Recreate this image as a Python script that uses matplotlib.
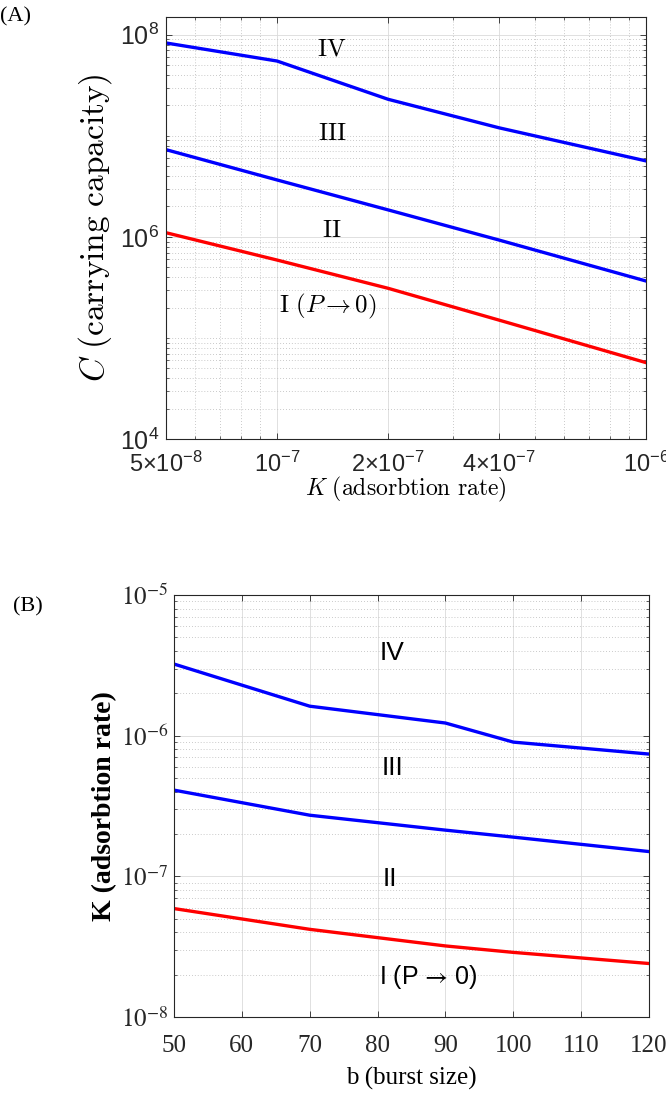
import matplotlib.pyplot as plt
import matplotlib.ticker as mticker

plt.rcParams['font.family'] = ['Liberation Serif', 'DejaVu Serif']
plt.rcParams['mathtext.fontset'] = 'custom'
plt.rcParams['mathtext.rm'] = 'Liberation Sans'
plt.rcParams['mathtext.it'] = 'Liberation Sans:italic'
plt.rcParams['mathtext.bf'] = 'Liberation Sans:bold'
plt.rcParams['axes.linewidth'] = 0.8

# panel A: carrying capacity vs adsorption rate
k_rate = [5e-8, 1e-7, 2e-7, 4e-7, 1e-6]
c_iv = [8.3e7, 5.5e7, 2.3e7, 1.2e7, 5.65e6]
c_iii = [7.3e6, 3.66e6, 1.85e6, 9.3e5, 3.66e5]
c_ii = [1.1e6, 5.9e5, 3.1e5, 1.5e5, 5.7e4]
a_xticks = [5e-8, 1e-7, 2e-7, 4e-7, 1e-6]
a_xlabels = [r'$5{\times}10^{-8}$', r'$10^{-7}$', r'$2{\times}10^{-7}$',
             r'$4{\times}10^{-7}$', r'$10^{-6}$']
a_yticks = [1e4, 1e6, 1e8]
a_ylabels = [r'$10^{4}$', r'$10^{6}$', r'$10^{8}$']

# panel B: adsorption rate vs burst size
burst = [50, 70, 90, 100, 120]
k_iv = [3.23e-6, 1.62e-6, 1.23e-6, 9.0e-7, 7.4e-7]
k_iii = [4.1e-7, 2.72e-7, 2.13e-7, 1.9e-7, 1.5e-7]
k_ii = [5.9e-8, 4.2e-8, 3.2e-8, 2.88e-8, 2.4e-8]
b_xticks = [50, 60, 70, 80, 90, 100, 110, 120]
b_yticks = [1e-8, 1e-7, 1e-6, 1e-5]
b_ylabels = [r'$10^{-8}$', r'$10^{-7}$', r'$10^{-6}$', r'$10^{-5}$']

blue = (0, 0, 1)
red = (1, 0, 0)
lw = 2.4


def matlab_box(ax):
    ax.tick_params(which='both', direction='in', top=True, right=True,
                   colors='0.15')
    ax.tick_params(which='major', length=4.5, width=0.6)
    ax.tick_params(which='minor', length=2.5, width=0.5)
    for s in ax.spines.values():
        s.set_color('0.15')
    ax.set_axisbelow(True)


fig = plt.figure(figsize=(6.66, 10.94), dpi=100)

# ---------------- (A)
axA = fig.add_axes([166/666, 1-439/1094, 480/666, 422/1094])
axA.set_xscale('log')
axA.set_yscale('log')
axA.plot(k_rate, c_iv, color=blue, lw=lw)
axA.plot(k_rate, c_iii, color=blue, lw=lw)
axA.plot(k_rate, c_ii, color=red, lw=lw)
axA.set_xlim(5e-8, 1e-6)
axA.set_ylim(1e4, 1.5e8)
axA.set_xticks(a_xticks, a_xlabels, math_fontfamily='custom', fontsize=17)
axA.set_yticks(a_yticks, a_ylabels, math_fontfamily='custom', fontsize=18)
axA.xaxis.set_minor_locator(mticker.FixedLocator(
    [6e-8, 7e-8, 8e-8, 9e-8, 3e-7, 5e-7, 6e-7, 7e-7, 8e-7, 9e-7]))
axA.yaxis.set_minor_locator(mticker.LogLocator(base=10, subs=range(1, 10), numticks=50))
axA.xaxis.set_minor_formatter(mticker.NullFormatter())
axA.yaxis.set_minor_formatter(mticker.NullFormatter())
axA.grid(which='major', color='0.86', lw=0.6, ls='-')
axA.grid(which='minor', color='0.72', lw=0.6, ls=(0, (1, 2.5)))
matlab_box(axA)
axA.tick_params(axis='x', pad=9)
axA.tick_params(axis='y', pad=5)
axA.set_xlabel(r'$K\ \mathrm{(adsorbtion\ rate)}$', fontsize=17,
               math_fontfamily='cm', labelpad=-1)
axA.set_ylabel(r'$C\ \mathrm{(carrying\ capacity)}$', fontsize=24,
               math_fontfamily='cm', labelpad=4)
for txt, xx, yy in [('IV', 0.346, 0.924), ('III', 0.346, 0.723), ('II', 0.346, 0.493)]:
    axA.text(xx, yy, r'$\mathrm{' + txt + '}$', transform=axA.transAxes,
             ha='center', va='center', fontsize=18, math_fontfamily='cm')
axA.text(0.3375, 0.313, r'$\mathrm{I}\ (P \rightarrow 0)$', transform=axA.transAxes,
         ha='center', va='center', fontsize=18, math_fontfamily='cm')
fig.text(0.0, 1-17/1094, '(A)', fontsize=16, ha='left', va='center')

# ---------------- (B)
axB = fig.add_axes([174/666, 1-1017/1094, 475/666, 422/1094])
axB.set_yscale('log')
axB.plot(burst, k_iv, color=blue, lw=lw)
axB.plot(burst, k_iii, color=blue, lw=lw)
axB.plot(burst, k_ii, color=red, lw=lw)
axB.set_xlim(50, 120)
axB.set_ylim(1e-8, 1e-5)
axB.set_xticks(b_xticks)
axB.set_yticks(b_yticks, b_ylabels, math_fontfamily='stix')
axB.yaxis.set_minor_locator(mticker.LogLocator(base=10, subs=range(2, 10), numticks=50))
axB.yaxis.set_minor_formatter(mticker.NullFormatter())
axB.tick_params(labelsize=18)
axB.grid(which='major', color='0.86', lw=0.6, ls='-')
axB.grid(which='minor', axis='y', color='0.72', lw=0.6, ls=(0, (1, 2.5)))
matlab_box(axB)
axB.tick_params(axis='x', pad=13)
axB.tick_params(axis='y', pad=4)
axB.set_xlabel('b (burst size)', fontsize=18, labelpad=7)
axB.set_ylabel('K (adsorbtion rate)', fontsize=20, fontweight='bold', labelpad=3)
for txt, xx, yy in [('IV', 0.459, 0.863), ('III', 0.459, 0.59), ('II', 0.455, 0.327)]:
    axB.text(xx, yy, txt, transform=axB.transAxes, ha='center', va='center',
             fontsize=19, family=['Liberation Sans', 'DejaVu Sans'])
axB.text(0.535, 0.095, r'I (P$\,\rightarrow\,$0)', transform=axB.transAxes, ha='center',
         va='center', fontsize=18, family=['Liberation Sans', 'DejaVu Sans'],
         math_fontfamily='stixsans')
fig.text(13/666, 1-607/1094, '(B)', fontsize=16, ha='left', va='center')

fig.savefig('out.png', dpi=100)
